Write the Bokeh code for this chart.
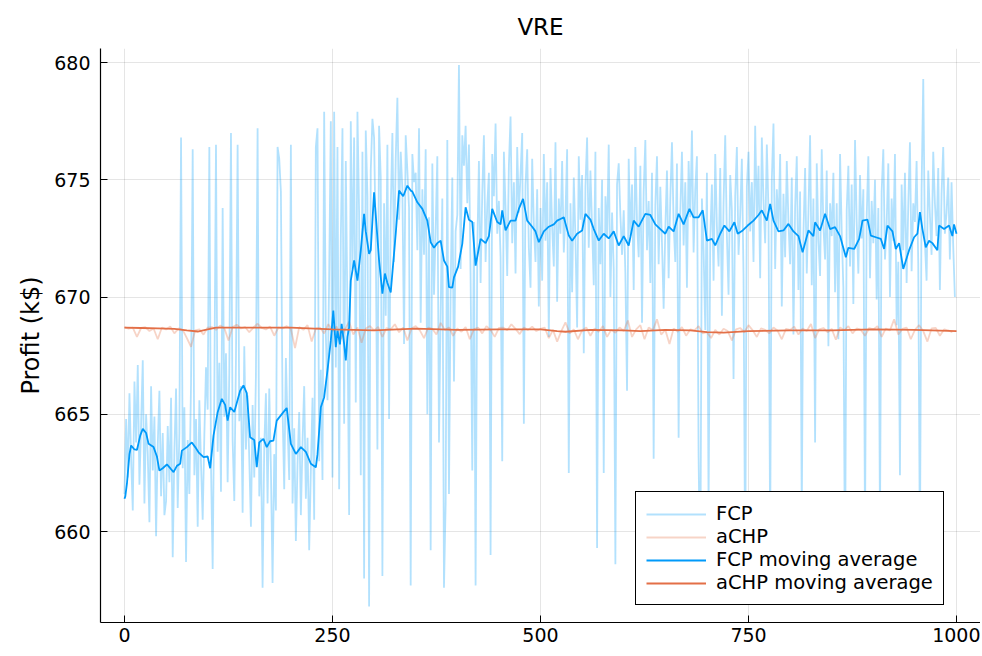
from bokeh.plotting import figure
from bokeh.models import Range1d, FixedTicker, Legend, LegendItem
from bokeh.embed import file_html
from bokeh.resources import INLINE

# ---------------- data ----------------
# raw FCP profit, one value every 2 iterations (x = 0, 2, ..., 998)
fcp_raw = [
    661.6, 664.8, 662.3, 665.9, 663.1, 660.9, 666.4, 663.8, 667.1, 662.0, 664.6, 667.3, 661.2, 665.0, 663.3, 660.4, 666.2, 662.6, 664.9, 659.8, 663.7, 666.0, 661.5, 664.2, 660.7,
    661.3, 664.5, 662.1, 665.7, 658.9, 663.4, 666.1, 661.0, 664.2, 676.8, 662.7, 665.3, 658.7, 663.9, 661.6, 666.3, 676.3, 662.4, 664.8, 660.2, 665.6, 662.9, 660.5, 664.1, 667.0,
    665.2, 676.4, 662.8, 658.4, 666.0, 676.5, 663.4, 667.2, 661.7, 673.8, 664.9, 667.6, 662.1, 666.8, 677.0, 663.9, 661.3, 667.4, 676.5, 664.7, 666.2, 660.8, 667.9, 663.5, 665.8,
    663.1, 660.2, 665.4, 662.3, 666.7, 677.2, 661.5, 664.0, 657.6, 663.6, 665.9, 661.2, 666.1, 662.7, 657.8, 663.3, 660.9, 676.4, 675.9, 674.5, 665.2, 661.8, 667.4, 664.6, 662.2,
    676.5, 661.2, 664.4, 659.6, 662.9, 665.1, 660.7, 663.8, 666.2, 661.4, 664.0, 659.2, 662.6, 665.7, 660.5, 676.4, 677.2, 663.0, 666.9, 662.2, 677.9, 668.4, 665.6, 670.8, 677.5,
    662.3, 677.9, 667.0, 676.4, 661.8, 672.5, 677.2, 664.6, 675.8, 669.3, 660.7, 677.5, 671.2, 676.8, 665.5, 677.9, 673.6, 662.4, 676.2, 658.0, 677.1, 674.3, 656.8, 675.4, 677.6,
    676.8, 672.4, 663.5, 677.3, 675.1, 658.1, 674.0, 669.2, 676.5, 664.8, 673.7, 677.0, 671.5, 675.9, 678.5, 673.3, 676.2, 674.6, 668.0, 676.9, 675.4, 673.8, 657.7, 676.1, 674.9,
    675.3, 672.0, 677.2, 668.9, 674.6, 671.8, 676.3, 665.0, 673.4, 659.2, 675.7, 670.1, 672.9, 676.0, 663.8, 669.4, 674.2, 657.6, 661.2, 676.7, 661.6, 670.3, 675.1, 666.4, 672.8,
    673.5, 679.9, 671.2, 676.9, 675.6, 677.3, 674.0, 676.5, 670.8, 662.6, 673.2, 657.7, 672.0, 675.8, 670.6, 674.4, 676.9, 671.5, 673.9, 675.3, 659.0, 676.1, 674.3, 677.4, 672.7,
    674.1, 671.7, 663.0, 676.2, 673.8, 670.9, 675.6, 677.7, 672.3, 674.9, 671.0, 676.4, 673.6, 675.2, 677.0, 664.6, 674.8, 676.3, 672.1, 670.4, 675.9, 673.1, 671.5, 674.6, 669.6,
    673.8, 670.7, 676.1, 672.4, 674.9, 668.3, 675.5, 673.0, 671.3, 676.6, 669.8, 674.2, 672.7, 675.8, 671.9, 673.5, 676.3, 662.5, 674.0, 670.2, 675.1, 672.5, 668.7, 676.0, 673.3,
    675.2, 667.6, 674.7, 676.8, 672.1, 675.4, 673.0, 670.5, 676.2, 659.3, 673.8, 671.4, 675.0, 662.5, 674.3, 672.6, 676.5, 670.0, 673.6, 671.2, 658.6, 674.8, 675.7, 673.5, 671.8,
    673.7, 671.0, 666.0, 675.9, 672.6, 674.8, 670.3, 676.4, 673.2, 671.7, 675.6, 668.9, 674.5, 676.7, 672.0, 674.1, 670.6, 675.3, 663.1, 673.9, 676.0, 671.4, 674.7, 672.3, 669.5,
    672.9, 675.4, 670.8, 674.2, 676.6, 673.1, 671.5, 675.7, 664.0, 673.6, 676.2, 672.2, 674.9, 670.4, 675.8, 673.4, 677.1, 671.9, 674.6, 676.0, 663.2, 657.4, 674.2, 672.0, 668.6,
    675.3, 661.0, 672.5, 674.8, 670.7, 676.1, 673.0, 671.3, 675.5, 669.2, 674.0, 676.9, 672.6, 670.1, 675.2, 673.7, 666.5, 674.3, 676.4, 671.8, 673.5, 675.9, 670.9, 658.3, 674.7,
    676.2, 672.8, 674.9, 671.5, 677.3, 673.4, 675.6, 670.8, 676.8, 674.1, 672.3, 676.5, 673.7, 659.7, 675.0, 677.4, 671.2, 674.6, 672.9, 676.1, 669.6, 674.4, 671.7, 675.8, 673.2,
    671.4, 675.1, 668.4, 673.8, 676.0, 670.3, 674.5, 660.6, 672.7, 675.5, 671.0, 673.6, 676.9, 670.5, 674.2, 663.8, 675.7, 672.4, 670.9, 676.3, 673.0, 671.6, 675.4, 667.9, 674.0,
    672.6, 675.3, 670.2, 674.0, 668.2, 676.1, 672.8, 670.4, 657.9, 673.7, 675.6, 671.3, 674.8, 669.7, 676.7, 673.2, 671.0, 675.2, 672.5, 674.6, 660.0, 673.4, 676.0, 670.8, 674.1,
    672.3, 675.0, 669.9, 673.8, 660.2, 674.5, 676.3, 671.6, 673.1, 675.7, 670.0, 674.2, 672.4, 676.1, 668.8, 671.5, 662.4, 674.8, 672.0, 675.3, 670.6, 673.9, 676.6, 671.1, 674.0,
    673.2, 675.8, 671.4, 659.1, 674.6, 679.3, 672.3, 670.7, 675.4, 673.5, 671.8, 676.2, 674.0, 672.6, 675.5, 670.3, 674.4, 676.4, 672.7, 673.6, 675.1, 671.6, 674.9, 672.2, 670.0,
]
fcp_step = 2

# raw aCHP profit, one value every 5 iterations
achp_raw = [
    668.72, 668.65, 668.70, 668.30, 668.68, 668.72, 668.55, 668.66, 668.20, 668.70, 668.62, 668.74, 668.45, 668.66, 668.60, 668.25, 667.88, 668.58, 668.62, 668.40,
    668.70, 668.72, 668.60, 668.78, 668.68, 668.15, 668.72, 668.82, 668.66, 668.72, 668.50, 668.70, 668.86, 668.68, 668.62, 668.74, 668.35, 668.70, 668.66, 668.76,
    668.64, 667.82, 668.72, 668.60, 668.80, 668.10, 668.66, 668.70, 668.45, 668.84, 668.55, 668.74, 668.20, 668.62, 668.95, 668.40, 668.70, 668.05, 668.66, 668.76,
    668.58, 668.72, 668.30, 668.68, 668.62, 668.84, 668.50, 668.70, 668.15, 668.66, 668.76, 668.58, 668.25, 668.70, 668.64, 668.40, 668.90, 668.60, 668.70, 668.35,
    668.66, 668.52, 668.72, 668.20, 668.62, 668.70, 668.45, 668.76, 668.60, 668.30, 668.68, 668.70, 668.58, 668.84, 668.64, 668.42, 668.70, 668.60, 668.74, 668.55,
    668.64, 668.70, 668.25, 668.60, 668.10, 668.55, 668.92, 668.45, 668.62, 668.20, 668.58, 668.70, 668.35, 668.66, 668.52, 668.76, 668.30, 668.60, 668.48, 668.70,
    668.55, 669.00, 668.30, 668.62, 668.80, 668.20, 668.70, 668.58, 669.05, 668.40, 668.60, 668.00, 668.66, 668.52, 668.72, 668.35, 668.62, 668.58, 668.76, 668.45,
    668.50, 668.25, 668.60, 668.40, 668.65, 668.55, 668.15, 668.62, 668.68, 668.50, 668.80, 668.58, 668.30, 668.66, 668.60, 668.45, 668.70, 668.56, 668.20, 668.64,
    668.60, 668.74, 668.40, 668.66, 668.55, 668.85, 668.25, 668.62, 668.68, 668.50, 668.64, 668.18, 668.70, 668.58, 668.76, 668.45, 668.66, 668.60, 668.35, 668.68,
    668.62, 668.76, 668.30, 668.66, 668.58, 669.05, 668.40, 668.64, 668.70, 668.20, 668.60, 668.80, 668.55, 668.10, 668.66, 668.68, 668.35, 668.62, 668.58, 668.50,
]
achp_step = 5

# FCP moving average (iteration, value)
fcp_ma_x = [0, 1, 3, 6, 8, 12, 15, 19, 22, 26, 29, 35, 39, 42, 46, 51, 55, 59, 63, 67, 69, 75, 81, 85, 89, 95,
            100, 103, 107, 112, 117, 121, 124, 127, 132, 139, 143, 147, 151, 156, 159, 162, 167, 171, 175, 179, 183,
            191, 195, 200, 206, 212, 218, 224, 230, 232, 236, 240, 244, 248, 251, 254, 256, 259, 261, 264, 266, 268,
            270, 272, 276, 280, 284, 288, 290, 294, 296, 300, 306, 310, 313, 316, 320, 326, 330, 335, 340, 344, 346,
            352, 358, 364, 368, 372, 376, 380, 384, 388, 390, 394, 396, 401, 406, 410, 414, 418, 422, 428, 434, 438,
            442, 448, 452, 454, 458, 464, 470, 474, 479, 484, 490, 494, 498, 504, 510, 516, 520, 524, 528, 534, 538,
            544, 550, 554, 560, 564, 570, 576, 582, 588, 594, 600, 606, 612, 618, 626, 632, 638, 644, 650, 654, 660,
            666, 672, 679, 684, 690, 695, 700, 706, 710, 716, 721, 727, 733, 737, 743, 749, 756, 762, 766, 772, 776,
            780, 786, 792, 798, 804, 810, 815, 822, 828, 830, 836, 842, 848, 854, 860, 867, 870, 877, 883, 887, 893,
            897, 903, 909, 913, 917, 923, 927, 931, 936, 943, 949, 953, 956, 959, 963, 967, 971, 977, 979, 985, 991,
            995, 997, 1000]
fcp_ma_v = [661.4, 661.5, 662.05, 663.3, 663.67, 663.5, 663.48, 664.1, 664.38, 664.2, 663.74, 663.6, 663.2, 662.6, 662.7, 662.86, 662.7, 662.53, 662.8, 662.89, 663.45, 663.6, 663.8, 663.6, 663.38, 663.17,
            663.2, 662.7, 664.09, 665.09, 665.66, 665.4, 664.73, 665.3, 665.1, 666.0, 666.23, 665.9, 664.02, 663.9, 662.74, 663.8, 663.95, 663.6, 663.85, 663.88, 664.73,
            665.09, 665.27, 663.74, 663.31, 663.6, 663.4, 662.89, 662.74, 663.3, 665.3, 665.73, 666.87, 668.15, 669.42, 667.86, 668.57, 667.98, 668.86, 668.0, 667.3, 668.3,
            668.71, 670.7, 671.56, 670.7, 671.98, 673.55, 672.8, 671.84, 672.0, 674.47, 671.56, 670.14, 671.0, 670.6, 670.2, 672.7, 674.54, 674.3, 674.75, 674.54, 674.5,
            674.04, 673.76, 673.26, 672.34, 672.1, 672.3, 672.4, 671.56, 671.3, 670.42, 670.4, 670.84, 671.3, 672.27, 673.83, 673.3, 673.2, 671.34, 672.48, 672.3, 672.6,
            673.76, 673.2, 673.1, 673.7, 672.84, 673.26, 673.26, 673.76, 674.19, 673.26, 673.0, 672.8, 672.34, 672.8, 673.0, 673.1, 673.26, 673.33, 673.4, 672.62, 672.4,
            672.7, 672.84, 673.55, 673.3, 672.9, 672.41, 672.7, 672.5, 672.8, 672.2, 672.6, 672.2, 673.26, 673.0, 673.55, 673.5, 673.1, 672.9, 672.7, 673.0, 672.8,
            673.55, 673.1, 673.76, 673.4, 673.4, 673.7, 672.41, 672.48, 672.2, 672.7, 673.05, 672.8, 673.19, 672.7, 672.84, 673.05, 673.26, 673.5, 673.7, 673.26, 673.97,
            673.26, 672.8, 672.84, 673.12, 672.8, 672.6, 671.91, 672.84, 672.6, 673.19, 672.84, 673.55, 672.9, 672.98, 672.6, 671.7, 672.1, 672.05, 672.48, 673.26, 673.3,
            672.62, 672.55, 672.48, 672.05, 673.05, 672.8, 672.05, 672.3, 671.2, 672.0, 672.55, 672.7, 673.62, 672.9, 672.12, 672.4, 672.3, 672.0, 673.05, 672.9, 673.05,
            672.6, 673.1, 672.7]

# aCHP moving average (iteration, value)
achp_ma_x = [0, 20, 40, 60, 75, 88, 100, 110, 150, 200, 250, 300, 350, 400, 450, 500, 520, 530, 560, 600, 620, 650, 680, 700, 720, 750, 800, 850, 900, 950, 1000]
achp_ma_v = [668.70, 668.68, 668.66, 668.64, 668.58, 668.53, 668.62, 668.70, 668.70, 668.70, 668.62, 668.58, 668.65, 668.60, 668.62, 668.62, 668.55, 668.52, 668.60, 668.58, 668.55, 668.60, 668.58, 668.50, 668.48, 668.55, 668.58, 668.58, 668.62, 668.60, 668.55]

x_ticks = [0, 250, 500, 750, 1000]
y_ticks = [660, 665, 670, 675, 680]
title_text = "VRE"
y_label = "Profit (k$)"
labels = ["FCP", "aCHP", "FCP moving average", "aCHP moving average"]

# ---------------- figure ----------------
BLUE = "#009AFA"
ORANGE = "#E36F47"
FONT = "DejaVu Sans"

p = figure(frame_width=880, frame_height=574, output_backend="svg", toolbar_location=None,
           x_range=Range1d(-28.8, 1028.8), y_range=Range1d(656.12, 680.6),
           min_border_left=100, min_border_right=0, min_border_top=48, min_border_bottom=32,
           title=title_text)
p.background_fill_color = "white"
p.border_fill_color = "white"
p.outline_line_color = None

p.title.align = "center"
p.title.text_font = FONT
p.title.text_font_size = "23px"
p.title.text_font_style = "normal"
p.title.text_color = "black"
p.title.standoff = 18

for ax in (p.xaxis[0], p.yaxis[0]):
    ax.axis_line_color = "black"
    ax.axis_line_width = 1.2
    ax.major_tick_in = 7
    ax.major_tick_out = 0
    ax.minor_tick_in = 0
    ax.minor_tick_out = 0
    ax.major_tick_line_color = "black"
    ax.major_label_text_font = FONT
    ax.major_label_text_font_size = "19px"
    ax.major_label_text_color = "black"
p.xaxis[0].ticker = FixedTicker(ticks=x_ticks)
p.yaxis[0].ticker = FixedTicker(ticks=y_ticks)
p.xaxis[0].major_label_standoff = 5
p.yaxis[0].major_label_standoff = 10
p.yaxis[0].axis_label = y_label
p.yaxis[0].axis_label_text_font = FONT
p.yaxis[0].axis_label_text_font_size = "24px"
p.yaxis[0].axis_label_text_font_style = "normal"
p.yaxis[0].axis_label_text_color = "black"
p.yaxis[0].axis_label_standoff = 6

p.xgrid.ticker = FixedTicker(ticks=x_ticks)
p.ygrid.ticker = FixedTicker(ticks=y_ticks)
for g in (p.xgrid[0], p.ygrid[0]):
    g.grid_line_color = "black"
    g.grid_line_alpha = 0.1
    g.grid_line_width = 1

fcp_x = [i * fcp_step for i in range(len(fcp_raw))]
achp_x = [i * achp_step for i in range(len(achp_raw))]

r1 = p.line(fcp_x, fcp_raw, line_color=BLUE, line_alpha=0.3, line_width=1.8)
r2 = p.line(achp_x, achp_raw, line_color=ORANGE, line_alpha=0.3, line_width=1.8)
r3 = p.line(fcp_ma_x, fcp_ma_v, line_color=BLUE, line_width=1.8)
r4 = p.line(achp_ma_x, achp_ma_v, line_color=ORANGE, line_width=1.8)

legend = Legend(items=[LegendItem(label=labels[0], renderers=[r1]),
                       LegendItem(label=labels[1], renderers=[r2]),
                       LegendItem(label=labels[2], renderers=[r3]),
                       LegendItem(label=labels[3], renderers=[r4])],
                location=(535, 17))
legend.label_text_font = FONT
legend.label_text_font_size = "19.5px"
legend.label_text_color = "black"
legend.label_text_baseline = "middle"
legend.glyph_width = 60
legend.glyph_height = 20
legend.label_height = 20
legend.spacing = 0
legend.padding = 10
legend.margin = 0
legend.label_standoff = 10
legend.border_line_color = "black"
legend.border_line_width = 1.2
legend.border_line_alpha = 1
legend.background_fill_color = "white"
legend.background_fill_alpha = 1
p.add_layout(legend)

open("out.html", "w").write(file_html(p, INLINE))
